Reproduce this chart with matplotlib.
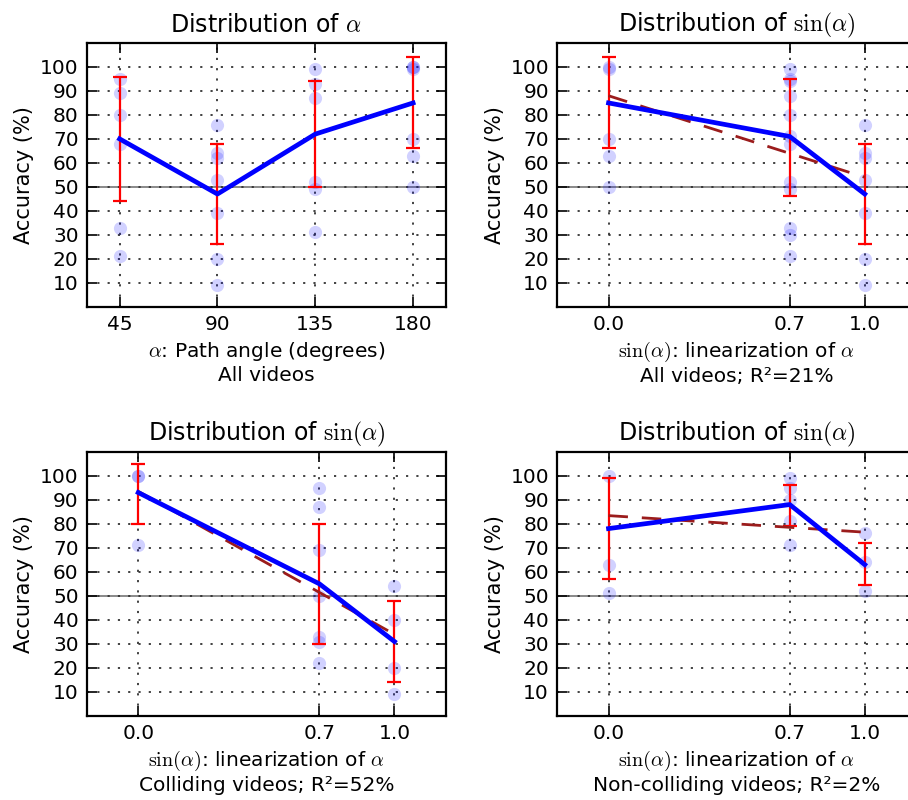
import numpy as np
import matplotlib
matplotlib.use("Agg")
import matplotlib.pyplot as plt

plt.rcParams.update({
    "font.family": ["DejaVu Sans"],
    "mathtext.fontset": "cm",
    "font.size": 14,
    "xtick.direction": "in",
    "ytick.direction": "in",
    "xtick.top": True,
    "ytick.right": True,
    "xtick.major.size": 7,
    "ytick.major.size": 7,
    "xtick.major.width": 1.2,
    "ytick.major.width": 1.2,
    "axes.linewidth": 1.6,
})

# --- Panel 1: accuracy by path angle (degrees) ---
angles = [45, 90, 135, 180]
angle_points = [
    [95, 89, 80, 68, 33, 21],
    [76, 64, 62, 53, 39, 20, 9],
    [99, 93, 87, 52, 49, 31],
    [100, 99, 100, 70, 63, 50],
]
angle_mean = [70, 47, 72, 85]
angle_err_low = [44, 26, 50, 66]
angle_err_high = [96, 68, 94, 104]

# --- sin(alpha) positions: sin(180), sin(45/135), sin(90) ---
sin_x = [0.0, 0.7071, 1.0]
sin_ticklabels = ["0.0", "0.7", "1.0"]

# All videos
all_points = [
    [100, 99, 70, 63, 50],
    [99, 95, 94, 88, 80, 71, 68, 52, 49, 33, 30, 21],
    [76, 64, 62, 53, 39, 20, 9],
]
all_mean = [85, 71, 47]
all_err_low = [66, 46, 26]
all_err_high = [104, 95, 68]
all_fit = [88, 54]          # fitted line at sin=0 and sin=1

# Colliding videos
coll_points = [
    [100, 100, 71],
    [95, 87, 69, 50, 33, 31, 22],
    [54, 40, 20, 9],
]
coll_mean = [93, 55, 31]
coll_err_low = [80, 30, 14]
coll_err_high = [105, 80, 48]
coll_fit = [93.5, 34]

# Non-colliding videos
noncoll_points = [
    [100, 63, 51],
    [99, 95, 90, 81, 71],
    [76, 64, 52],
]
noncoll_mean = [78, 88, 63]
noncoll_err_low = [57, 79, 54.5]
noncoll_err_high = [99, 96, 72]
noncoll_fit = [83.4, 76.5]

fig = plt.figure(figsize=(9.08, 8.0), dpi=100)
W, H = 908.0, 800.0


def make_axes(x0, x1, y0, y1):
    return fig.add_axes([x0 / W, 1 - y1 / H, (x1 - x0) / W, (y1 - y0) / H])


ax_tl = make_axes(87, 445.7, 43, 306.7)
ax_tr = make_axes(557.3, 916, 43, 306.7)
ax_bl = make_axes(87, 445.7, 451.7, 716)
ax_br = make_axes(557.3, 916, 451.7, 716)


def draw_panel(ax, xs, pts, mean, lo, hi, fit=None):
    ax.axhline(50, color="0.5", lw=1.3, zorder=1)
    for x, p in zip(xs, pts):
        ax.plot([x] * len(p), p, "o", color="blue", alpha=0.18,
                markersize=9.5, markeredgewidth=0, zorder=2)
    mean = np.asarray(mean, float)
    yerr = [mean - np.asarray(lo, float), np.asarray(hi, float) - mean]
    ax.errorbar(xs, mean, yerr=yerr, fmt="none", ecolor="red",
                elinewidth=1.6, capsize=5, capthick=1.6, zorder=3)
    if fit is not None:
        ax.plot([0, 1], fit, color="#9b1c1c", lw=2, dashes=(7, 5), zorder=4)
    ax.plot(xs, mean, color="blue", lw=3.4, zorder=5)
    ax.set_ylim(0, 110)
    ax.set_yticks(range(10, 101, 10))
    ax.grid(True, color="0.2", linestyle=(0, (1.2, 4.5)), linewidth=1.3)
    ax.set_ylabel("Accuracy (%)", fontsize=15)
    ax.tick_params(labelsize=14.5, pad=6)


draw_panel(ax_tl, angles, angle_points, angle_mean, angle_err_low, angle_err_high)
ax_tl.set_xlim(30, 195)
ax_tl.set_xticks(angles)
ax_tl.set_title(r"Distribution of $\alpha$", fontsize=17, pad=8)
ax_tl.set_xlabel("$\\alpha$: Path angle (degrees)\nAll videos", fontsize=14.5)

panels = [
    (ax_tr, all_points, all_mean, all_err_low, all_err_high, all_fit,
     "All videos; R²=21%"),
    (ax_bl, coll_points, coll_mean, coll_err_low, coll_err_high, coll_fit,
     "Colliding videos; R²=52%"),
    (ax_br, noncoll_points, noncoll_mean, noncoll_err_low, noncoll_err_high,
     noncoll_fit, "Non-colliding videos; R²=2%"),
]
for ax, pts, mean, lo, hi, fit, subset in panels:
    draw_panel(ax, sin_x, pts, mean, lo, hi, fit)
    ax.set_xlim(-0.2, 1.2)
    ax.set_xticks(sin_x)
    ax.set_xticklabels(sin_ticklabels)
    ax.set_title(r"Distribution of $\sin(\alpha)$", fontsize=17, pad=8)
    ax.set_xlabel("$\\sin(\\alpha)$: linearization of $\\alpha$\n" + subset,
                  fontsize=14.5)

fig.savefig("out.png", dpi=100)
